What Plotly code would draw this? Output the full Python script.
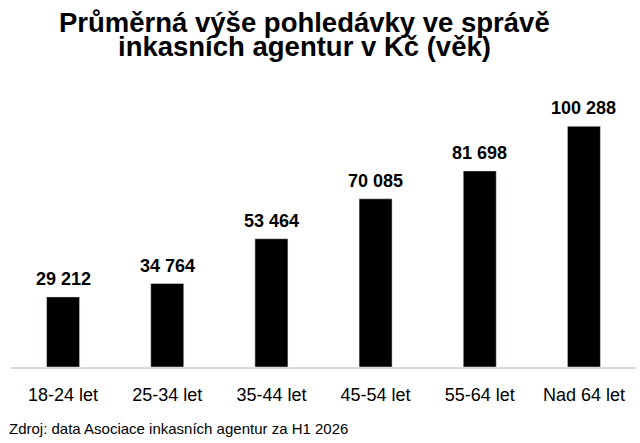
import plotly.graph_objects as go

# Data
age_groups = ['18-24 let', '25-34 let', '35-44 let', '45-54 let', '55-64 let', 'Nad 64 let']
avg_claim = [29212, 34764, 53464, 70085, 81698, 100288]

title_lines = ['Průměrná výše pohledávky ve správě', 'inkasních agentur v Kč (věk)']
source_note = 'Zdroj: data Asociace inkasních agentur za H1 2026'

font_family = 'Liberation Sans, Arial, sans-serif'

fig = go.Figure()

fig.add_trace(go.Bar(
    x=age_groups,
    y=avg_claim,
    marker_color='black',
    hoverinfo='skip',
))

# value labels above bars (czech style thousands separator)
for cat, val in zip(age_groups, avg_claim):
    fig.add_annotation(x=cat, y=val, text='<b>' + f"{val:,}".replace(',', ' ') + '</b>',
                       xanchor='center', yanchor='bottom', yshift=6, showarrow=False,
                       font=dict(size=18, color='black', family=font_family))

# Title as two annotations so line spacing can be tuned
fig.add_annotation(text='<b>' + title_lines[0] + '</b>', xref='paper', yref='paper',
                   x=0.469, y=1.306, xanchor='center', yanchor='middle', showarrow=False,
                   font=dict(size=27.5, color='black', family=font_family))
fig.add_annotation(text='<b>' + title_lines[1] + '</b>', xref='paper', yref='paper',
                   x=0.469, y=1.214, xanchor='center', yanchor='middle', showarrow=False,
                   font=dict(size=27.5, color='black', family=font_family))

# Source note under the chart
fig.add_annotation(text=source_note, xref='paper', yref='paper',
                   x=-0.006, y=-0.232, xanchor='left', yanchor='middle', showarrow=False,
                   font=dict(size=15, color='black', family=font_family))

fig.update_layout(
    width=640,
    height=443,
    margin=dict(l=11, r=4, t=103, b=76),
    paper_bgcolor='white',
    plot_bgcolor='white',
    showlegend=False,
    bargap=0.683,
    font=dict(family=font_family, color='black'),
    xaxis=dict(
        showline=True,
        linecolor='#d9d9d9',
        linewidth=2,
        ticks='outside',
        ticklen=10,
        tickcolor='rgba(0,0,0,0)',
        tickfont=dict(size=18, color='black'),
    ),
    yaxis=dict(
        range=[0, 110000],
        visible=False,
        showgrid=False,
        zeroline=False,
    ),
)

# page body has a default 8px margin, drop it so the figure sits at 0,0
fig.write_html("out.html", config={'displayModeBar': False},
               post_script="document.body.style.margin='0';")
